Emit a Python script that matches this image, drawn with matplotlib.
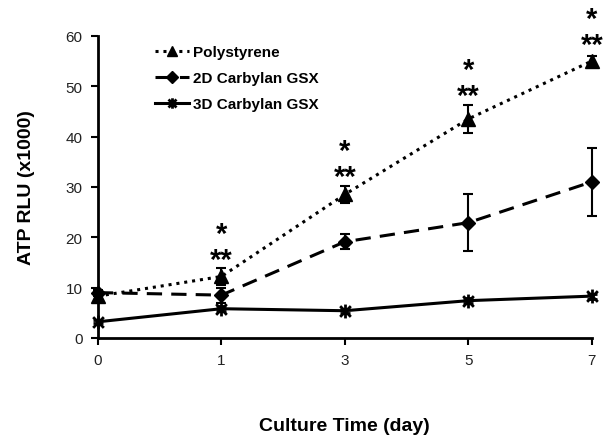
import numpy as np
import matplotlib
matplotlib.use("Agg")
import matplotlib.pyplot as plt
from matplotlib.path import Path

plt.rcParams['font.family'] = ['Liberation Sans', 'DejaVu Sans']

days = ['0', '1', '3', '5', '7']
poly = [8.3, 12.2, 28.5, 43.5, 55.0]
poly_err = [0.8, 1.6, 1.7, 2.7, 1.0]
gsx2d = [9.0, 8.5, 19.1, 22.9, 31.0]
gsx2d_err = [0.6, 1.5, 1.5, 5.6, 6.8]
gsx3d = [3.2, 5.8, 5.4, 7.4, 8.3]
gsx3d_err = [0.3, 0.5, 0.4, 0.5, 0.5]
marks = ['', '*', '*', '*', '*']

x = np.arange(len(days))

# excel style star marker: x with a vertical bar
star = Path([(-1, -1), (1, 1), (-1, 1), (1, -1), (0, -1.3), (0, 1.3)],
            [Path.MOVETO, Path.LINETO, Path.MOVETO, Path.LINETO, Path.MOVETO, Path.LINETO])

fig = plt.figure(figsize=(6.12, 4.39), dpi=100)
ax = fig.add_axes([0.160, 0.228, 0.807, 0.688])

ax.errorbar(x, poly, yerr=poly_err, color='k', ls=(0, (1, 1.6)), lw=2.2,
            marker='^', ms=9.5, capsize=3.5, elinewidth=1.5, capthick=1.5,
            label='Polystyrene', clip_on=False)
ax.errorbar(x, gsx2d, yerr=gsx2d_err, color='k', ls=(0, (5, 3)), lw=2.2,
            marker='D', ms=7.5, capsize=3.5, elinewidth=1.5, capthick=1.5,
            label='2D Carbylan GSX', clip_on=False)
ax.errorbar(x, gsx3d, yerr=gsx3d_err, color='k', ls='-', lw=2.2,
            marker=star, ms=10, mew=2, capsize=3.5, elinewidth=1.5, capthick=1.5,
            label='3D Carbylan GSX', clip_on=False)

for i in range(len(days)):
    if marks[i]:
        top = max(poly[i] + poly_err[i], poly[i] + 1.5)
        ax.annotate('**', (x[i], top), xytext=(0, 1), textcoords='offset pixels',
                    ha='center', va='baseline', fontsize=21, fontweight='bold')
        ax.annotate('*', (x[i], top), xytext=(0, 27), textcoords='offset pixels',
                    ha='center', va='baseline', fontsize=21, fontweight='bold')

ax.set_xlim(0, 4)
ax.set_ylim(0, 60)
ax.set_xticks(x)
ax.set_xticklabels(days)
ax.set_yticks(np.arange(0, 61, 10))
ax.tick_params(axis='both', labelsize=11, direction='out', length=5, width=1.5, pad=6,
               labelcolor='#222222')

for s in ['top', 'right']:
    ax.spines[s].set_visible(False)
for s in ['left', 'bottom']:
    ax.spines[s].set_linewidth(2)

ax.set_xlabel('Culture Time (day)', fontsize=14, fontweight='bold', labelpad=36)
ax.set_ylabel('ATP RLU (x1000)', fontsize=14, fontweight='bold', labelpad=22)

handles, labels = ax.get_legend_handles_labels()
handles = [h[0] for h in handles]
ax.legend(handles, labels, loc='upper left', bbox_to_anchor=(0.1, 0.995), frameon=False,
          prop={'weight': 'bold', 'size': 11}, handlelength=2.2,
          handletextpad=0.3, labelspacing=0.8, markerscale=0.75, borderpad=0)

fig.savefig('out.png', dpi=100)
